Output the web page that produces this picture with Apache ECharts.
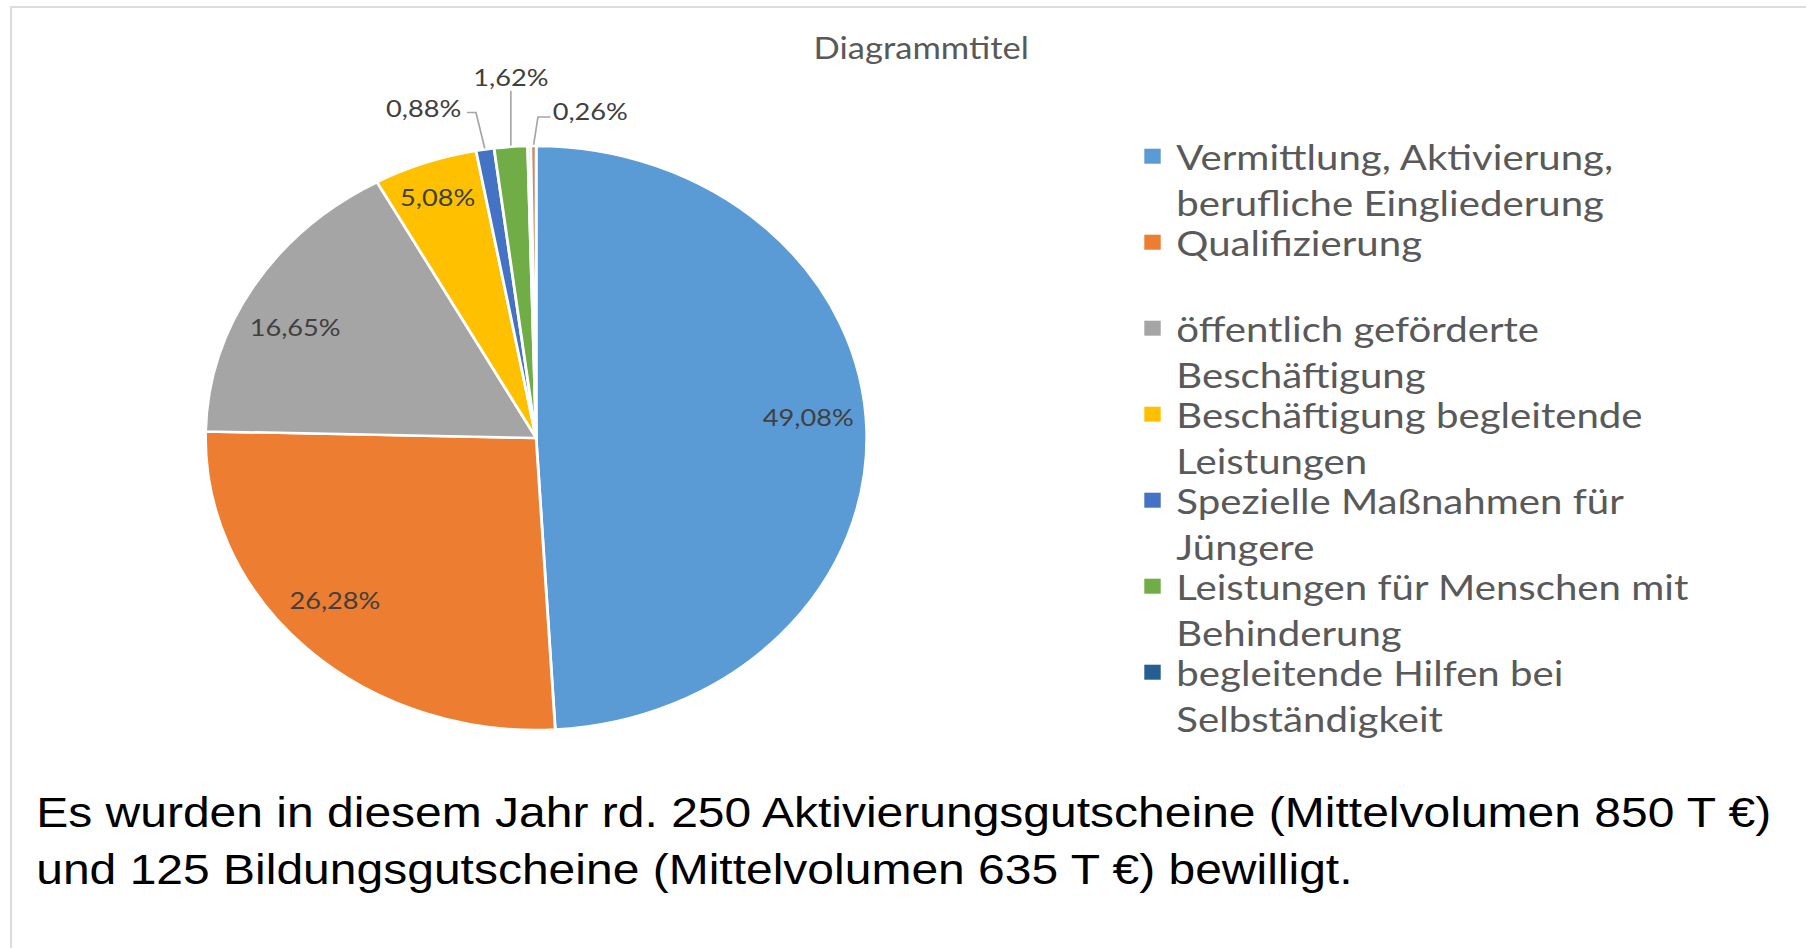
<!DOCTYPE html>
<html lang="de">
<head>
<meta charset="utf-8">
<title>Diagrammtitel</title>
<script src="https://cdn.jsdelivr.net/npm/echarts@6/dist/echarts.min.js"></script>
<style>
  html, body { margin: 0; padding: 0; background: #ffffff; }
  #frame { width: 1806px; height: 948px; overflow: hidden; }
  /* die Vorlage ist horizontal gestreckt, deshalb wird das ganze Diagramm mitgestreckt */
  #chart { width: 1595px; height: 948px; transform: scaleX(1.1323); transform-origin: 0 0; }
</style>
</head>
<body>
<div id="frame"><div id="chart"></div></div>
<script>
// Kategorien (die letzte Scheibe hat keinen Legendeneintrag)
const categories = [
  "Vermittlung, Aktivierung, berufliche Eingliederung",
  "Qualifizierung",
  "öffentlich geförderte Beschäftigung",
  "Beschäftigung begleitende Leistungen",
  "Spezielle Maßnahmen für Jüngere",
  "Leistungen für Menschen mit Behinderung",
  "begleitende Hilfen bei Selbständigkeit",
  "Sonstige",
];
// Anteile in %
const shares = [49.08, 26.28, 16.65, 5.08, 0.88, 1.62, 0.15, 0.26];
// Legendentexte mit Zeilenumbruch wie in der Vorlage
const legendLines = [
  "Vermittlung, Aktivierung,\nberufliche Eingliederung",
  "Qualifizierung\n\u00a0",
  "öffentlich geförderte\nBeschäftigung",
  "Beschäftigung begleitende\nLeistungen",
  "Spezielle Maßnahmen für\nJüngere",
  "Leistungen für Menschen mit\nBehinderung",
  "begleitende Hilfen bei\nSelbständigkeit",
];
const sliceColors = ["#5b9bd5", "#ed7d31", "#a5a5a5", "#ffc000", "#4472c4", "#70ad47", "#255e91", "#c98d66"];
const hiddenLabels = [6];
const footnoteLines = [
  "Es wurden in diesem Jahr rd. 250 Aktivierungsgutscheine (Mittelvolumen 850 T €)",
  "und 125 Bildungsgutscheine (Mittelvolumen 635 T €) bewilligt.",
];

const PIE_CENTER = [473.5, 438];
const PIE_RADIUS = 292;
const INNER_PUSH = 1.64; // Beschriftung innen bei ca. 0.82 r statt 0.5 r
// kleine Korrekturen wie bei Excel "optimale Position"
const INNER_NUDGE = { 0: [-4, -14], 1: [-8, -14], 2: [-4, 15], 3: [-5, -11] };
// Versatz der Außenbeschriftungen relativ zum Ankerpunkt auf dem Kreisbogen
const OUTER_LABELS = {
  4: { text: [-21, -42], align: "right", bend: [-8, -37], end: [-16, -37] },
  5: { text: [0, -70], align: "center", bend: [0, -56], end: [0, -56] },
  7: { text: [17, -35], align: "left", bend: [4, -29], end: [15, -29] },
};

const CALIBRI = "Lato, 'Open Sans', sans-serif";

const fmtPercent = (v) => v.toFixed(2).replace(".", ",") + "%";

const chart = echarts.init(document.getElementById("chart"), null, { renderer: "svg" });

const pieData = categories.map((name, i) => {
  const inside = shares[i] >= 3;
  const hidden = hiddenLabels.indexOf(i) >= 0;
  return {
    name: name,
    value: shares[i],
    itemStyle: { color: sliceColors[i] },
    label: { show: !hidden, position: inside ? "inside" : "outside" },
    labelLine: { show: !inside && !hidden },
  };
});

const option = {
  animation: false,
  title: {
    text: "Diagrammtitel",
    left: 813.6,
    top: 47,
    padding: 0,
    textAlign: "center",
    textVerticalAlign: "middle",
    textStyle: {
      fontFamily: CALIBRI,
      fontSize: 30.5,
      fontWeight: 400,
      color: "#595959",
    },
  },
  legend: {
    orient: "vertical",
    left: 1010.6,
    top: 87.2,
    padding: 0,
    itemGap: -52,
    itemWidth: 14.5,
    itemHeight: 15,
    icon: "rect",
    selectedMode: false,
    itemStyle: { borderWidth: 0 },
    data: categories.slice(0, 7).map((name, i) => ({ name: name, itemStyle: { color: sliceColors[i] } })),
    // leere erste Zeile: so steht die erste Textzeile auf Höhe des Symbols
    formatter: (name) => "\u00a0\n" + legendLines[categories.indexOf(name)],
    textStyle: {
      fontFamily: CALIBRI,
      fontSize: 35.5,
      lineHeight: 46,
      color: "#595959",
      padding: [0, 0, 0, 8.8],
    },
  },
  graphic: [
    {
      type: "line",
      shape: { x1: 8.8, y1: 7, x2: 1600, y2: 7 },
      style: { stroke: "#dcdcdc", lineWidth: 2 },
      silent: true,
    },
    {
      type: "line",
      shape: { x1: 9.7, y1: 6, x2: 9.7, y2: 948 },
      style: { stroke: "#dcdcdc", lineWidth: 1.8 },
      silent: true,
    },
    {
      type: "text",
      left: 32,
      top: 783,
      style: {
        text: footnoteLines.join("\n"),
        font: "42.4px 'Liberation Sans', Arial, sans-serif",
        fill: "#000000",
        lineHeight: 58,
      },
      silent: true,
    },
  ],
  series: [
    {
      name: "Anteile",
      type: "pie",
      center: PIE_CENTER,
      radius: PIE_RADIUS,
      startAngle: 90,
      clockwise: true,
      avoidLabelOverlap: false,
      silent: true,
      itemStyle: { borderColor: "#ffffff", borderWidth: 2.5 },
      label: {
        formatter: (p) => fmtPercent(p.value),
        fontFamily: CALIBRI,
        fontSize: 24,
        color: "#404040",
      },
      labelLine: {
        length: 20,
        length2: 0,
        lineStyle: { color: "#a6a6a6", width: 1.5 },
      },
      labelLayout: function (p) {
        const i = p.dataIndex;
        if (shares[i] >= 3) {
          const lx = p.labelRect.x + p.labelRect.width / 2;
          const ly = p.labelRect.y + p.labelRect.height / 2;
          const n = INNER_NUDGE[i] || [0, 0];
          return {
            x: PIE_CENTER[0] + (lx - PIE_CENTER[0]) * INNER_PUSH + n[0],
            y: PIE_CENTER[1] + (ly - PIE_CENTER[1]) * INNER_PUSH + n[1],
            align: "center",
            verticalAlign: "middle",
          };
        }
        const o = OUTER_LABELS[i];
        if (!o || !p.labelLinePoints) return {};
        const a = p.labelLinePoints[0];
        return {
          x: a[0] + o.text[0],
          y: a[1] + o.text[1],
          align: o.align,
          verticalAlign: "middle",
          labelLinePoints: [
            [a[0], a[1]],
            [a[0] + o.bend[0], a[1] + o.bend[1]],
            [a[0] + o.end[0], a[1] + o.end[1]],
          ],
        };
      },
      data: pieData,
    },
  ],
};

chart.setOption(option);
</script>
</body>
</html>
